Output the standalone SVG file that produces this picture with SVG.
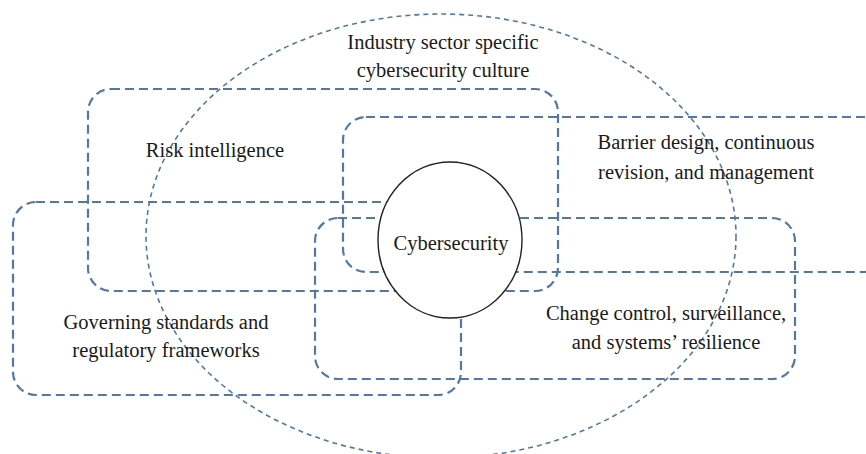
<svg xmlns="http://www.w3.org/2000/svg" width="866" height="454" viewBox="0 0 866 454">
  <style>
    .zone { fill: none; stroke: #56779f; stroke-width: 2.2; stroke-dasharray: 9 5; }
    .culture { fill: none; stroke: #56779f; stroke-width: 1.6; stroke-dasharray: 5 4; }
    .core { fill: #ffffff; stroke: #222222; stroke-width: 1.4; }
    text { font-family: "Liberation Serif", "Times New Roman", serif; font-size: 20.5px; fill: #1a1a1a; text-anchor: middle; }
  </style>
  <rect width="866" height="454" fill="#ffffff"/>

  <!-- outer culture ellipse -->
  <g id="culture">
    <ellipse class="culture" cx="441" cy="236" rx="295" ry="222"/>
    <text x="443" y="49">Industry sector specific</text>
    <text x="443" y="77">cybersecurity culture</text>
  </g>

  <g id="risk">
    <rect class="zone" x="88" y="89" width="470" height="202" rx="23"/>
    <text x="215" y="157">Risk intelligence</text>
  </g>

  <g id="barrier">
    <rect class="zone" x="343" y="117" width="543" height="155" rx="23"/>
    <text x="706" y="149">Barrier design, continuous</text>
    <text x="706" y="179">revision, and management</text>
  </g>

  <g id="governing">
    <rect class="zone" x="13" y="202" width="448" height="193" rx="23"/>
    <text x="166" y="329">Governing standards and</text>
    <text x="166" y="357">regulatory frameworks</text>
  </g>

  <g id="change">
    <rect class="zone" x="315" y="218" width="480" height="161" rx="23"/>
    <text x="666" y="320">Change control, surveillance,</text>
    <text x="666" y="349">and systems’ resilience</text>
  </g>

  <g id="cybersecurity">
    <ellipse class="core" cx="450" cy="240" rx="72" ry="78"/>
    <text x="451" y="250">Cybersecurity</text>
  </g>

  <g id="connectors"></g>
</svg>
